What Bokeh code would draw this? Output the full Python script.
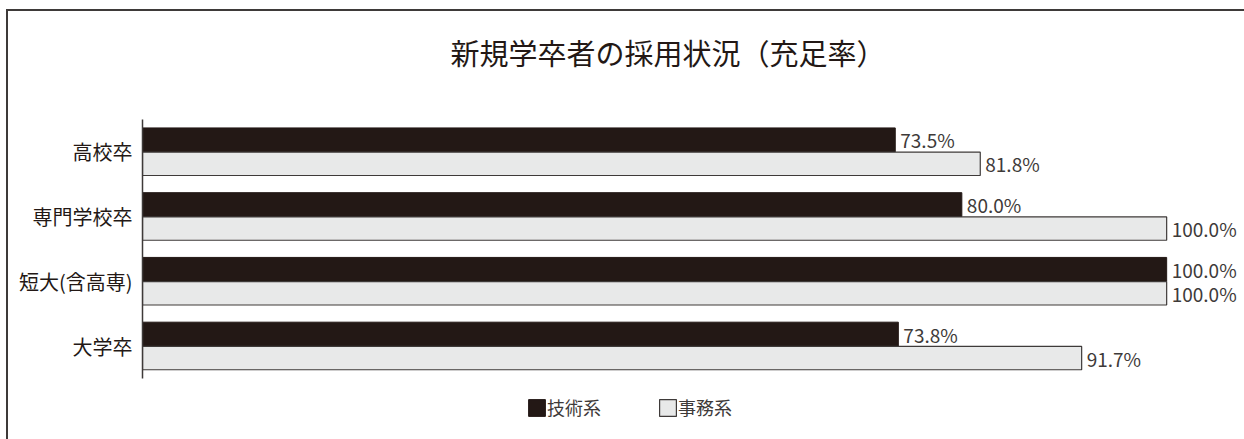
from bokeh.plotting import figure
from bokeh.models import ColumnDataSource, Range1d, Legend, LegendItem, InlineStyleSheet, FixedTicker, Label
from bokeh.transform import dodge
from bokeh.core.properties import value
from bokeh.embed import file_html
from bokeh.resources import INLINE

title_text = "新規学卒者の採用状況（充足率）"
categories = ["高校卒", "専門学校卒", "短大(含高専)", "大学卒"]
series_names = ["技術系", "事務系"]
gijutsu = [73.5, 80.0, 100.0, 73.8]
jimu = [81.8, 100.0, 100.0, 91.7]

FONT = "Noto Sans CJK JP"
DARK = "#231815"
LINE = "#3e3a39"
LIGHT = "#e8e9e9"

# category slots, top (高校卒) to bottom (大学卒)
ypos = [len(categories) - 1 - i for i in range(len(categories))]

src = ColumnDataSource(dict(
    y=ypos,
    cat=categories,
    g=gijutsu,
    j=jimu,
    gl=[f"{v:.1f}%" for v in gijutsu],
    jl=[f"{v:.1f}%" for v in jimu],
))

frame_css = InlineStyleSheet(css="""
:host { position: relative; }
:host::after {
  content: "";
  position: absolute;
  left: 6px; top: 9px; width: 1300px; height: 500px;
  border-top: 2px solid #3e3a39;
  border-left: 2px solid #3e3a39;
  pointer-events: none;
}
""")

p = figure(width=1244, height=439,
           y_range=Range1d(-1.442, 5.338),
           x_range=Range1d(0, 107.6),
           output_backend="svg", toolbar_location=None,
           min_border_left=142, min_border_right=0,
           min_border_top=0, min_border_bottom=0,
           stylesheets=[frame_css])
p.styles = {"overflow": "hidden"}
p.title.text = ""

p.outline_line_color = None
p.xgrid.visible = False
p.ygrid.visible = False
p.xaxis.visible = False

r1 = p.hbar(y=dodge("y", 0.185), left=0, right="g", height=0.37,
            fill_color=DARK, line_color=DARK, line_width=1, source=src)
r2 = p.hbar(y=dodge("y", -0.185), left=0, right="j", height=0.36,
            fill_color=LIGHT, line_color=LINE, line_width=1.2, source=src)

p.text(x="g", y=dodge("y", 0.185), text="gl", x_offset=5,
       text_baseline="middle", text_align="left", text_font=value(FONT),
       text_font_size="19px", text_color=LINE, source=src)
p.text(x="j", y=dodge("y", -0.185), text="jl", x_offset=5,
       text_baseline="middle", text_align="left", text_font=value(FONT),
       text_font_size="19px", text_color=LINE, source=src)

ax = p.yaxis[0]
ax.ticker = FixedTicker(ticks=ypos)
ax.major_label_overrides = {y: c for y, c in zip(ypos, categories)}
ax.bounds = (-0.5, 3.5)
ax.major_tick_line_color = None
ax.minor_tick_line_color = None
ax.axis_line_color = LINE
ax.axis_line_width = 1.5
ax.major_label_text_font = FONT
ax.major_label_text_font_size = "20px"
ax.major_label_text_color = DARK
ax.major_label_standoff = 4

title = Label(x=30.07, y=4.535, text=title_text, text_align="left", text_baseline="middle",
              text_font=FONT, text_font_size="29px", text_color=DARK)
p.add_layout(title)

legend = Legend(items=[LegendItem(label=series_names[0], renderers=[r1]),
                       LegendItem(label=series_names[1], renderers=[r2])],
                orientation="horizontal", location=(384, 19),
                glyph_width=21, glyph_height=21, label_standoff=0, spacing=56,
                padding=0, margin=0, border_line_color=None, background_fill_alpha=0,
                label_text_font=FONT, label_text_font_size="18px", label_text_color=LINE)
p.add_layout(legend)

open("out.html", "w").write(file_html(p, INLINE))
